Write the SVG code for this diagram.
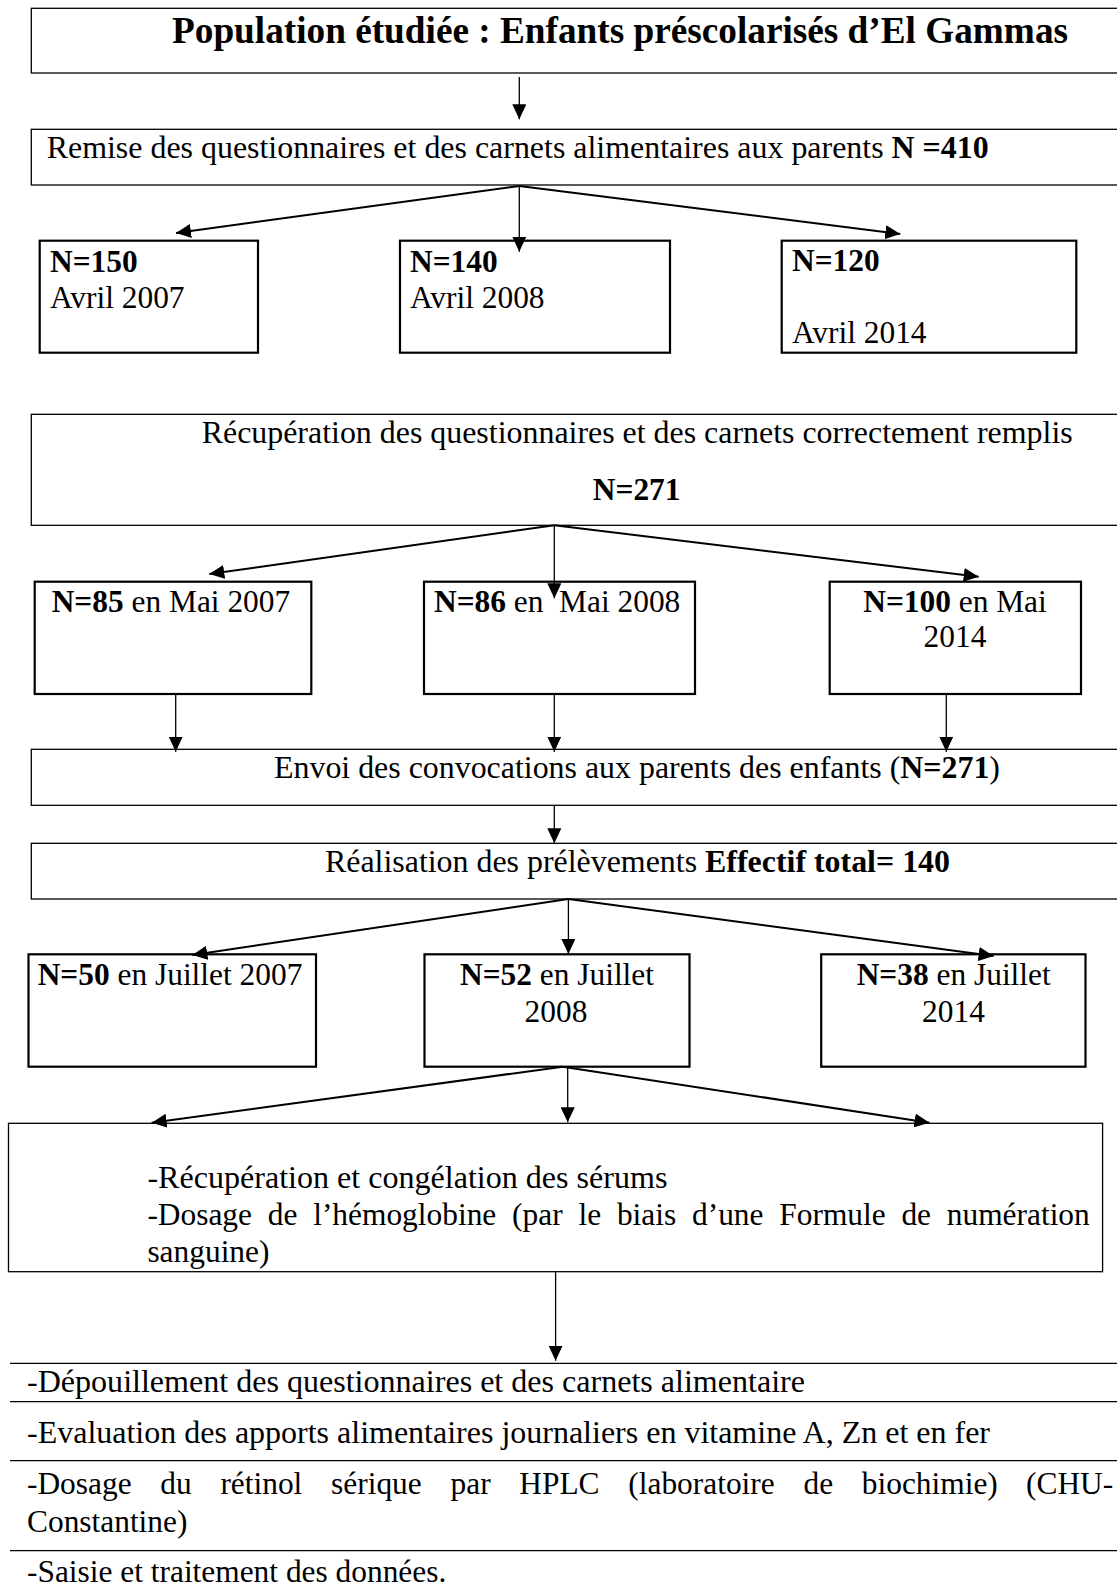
<svg xmlns="http://www.w3.org/2000/svg" width="1117" height="1591" viewBox="0 0 1117 1591">
<style>
text{font-family:"Liberation Serif","Times New Roman",serif;font-size:31.4px;fill:#000}
.b{font-weight:bold}
.t{font-size:37px;font-weight:bold}
.c{text-anchor:middle}
.wide{fill:#fff;stroke:#000;stroke-width:1.3}
.small{fill:none;stroke:#000;stroke-width:2.2}
.rule{stroke:#000;stroke-width:1.3}
.d{stroke:#000;stroke-width:2;fill:none}
.v{stroke:#000;stroke-width:1.3;fill:none}
.pre{white-space:pre}
</style>
<defs>
<marker id="ah" viewBox="0 0 15 14" markerWidth="15" markerHeight="14" refX="15" refY="7" orient="auto" markerUnits="userSpaceOnUse">
<path d="M0,0 L15,7 L0,14 z" fill="#000"/>
</marker>
</defs>
<rect width="1117" height="1591" fill="#fff"/>

<g id="n-population">
<rect class="wide" x="31.3" y="8.3" width="1100" height="64.7"/>
<text class="t" x="172" y="43.3" textLength="896" lengthAdjust="spacingAndGlyphs">Population étudiée : Enfants préscolarisés d’El Gammas</text>
</g>

<g id="n-remise">
<rect class="wide" x="31.3" y="129.3" width="1100" height="55.7"/>
<text x="46.7" y="157.5" textLength="942" lengthAdjust="spacingAndGlyphs">Remise des questionnaires et des carnets alimentaires aux parents <tspan class="b">N =410</tspan></text>
</g>

<g id="n-avril2007">
<rect class="small" x="39.7" y="240.7" width="218.3" height="112"/>
<text class="b" x="50" y="271.5">N=150</text>
<text x="50" y="308">Avril 2007</text>
</g>

<g id="n-avril2008">
<rect class="small" x="400" y="240.7" width="270" height="112"/>
<text class="b" x="410" y="271.5">N=140</text>
<text x="410" y="308">Avril 2008</text>
</g>

<g id="n-avril2014">
<rect class="small" x="781.7" y="240.7" width="294.6" height="112"/>
<text class="b" x="792" y="271">N=120</text>
<text x="792" y="343.3">Avril 2014</text>
</g>

<g id="n-recuperation">
<rect class="wide" x="31.3" y="414.3" width="1100" height="111"/>
<text x="201.7" y="443.3" textLength="871" lengthAdjust="spacingAndGlyphs">Récupération des questionnaires et des carnets correctement remplis</text>
<text class="b c" x="636.7" y="500">N=271</text>
</g>

<g id="n-mai2007">
<rect class="small" x="34.7" y="581.7" width="276.6" height="112.3"/>
<text x="51.7" y="611.7"><tspan class="b">N=85</tspan> en Mai 2007</text>
</g>

<g id="n-mai2008">
<rect class="small" x="424" y="581.7" width="271" height="112.3"/>
<text class="pre" x="434" y="611.7"><tspan class="b">N=86</tspan> en  Mai 2008</text>
</g>

<g id="n-mai2014">
<rect class="small" x="829.7" y="581.7" width="251.3" height="112.3"/>
<text class="c" x="955" y="611.7"><tspan class="b">N=100</tspan> en Mai</text>
<text class="c" x="955" y="646.7">2014</text>
</g>

<g id="n-envoi">
<rect class="wide" x="31.3" y="749.3" width="1100" height="56"/>
<text x="274" y="778.3" textLength="726" lengthAdjust="spacingAndGlyphs">Envoi des convocations aux parents des enfants (<tspan class="b">N=271</tspan>)</text>
</g>

<g id="n-realisation">
<rect class="wide" x="31.3" y="843.3" width="1100" height="55.7"/>
<text x="325" y="871.7" textLength="625" lengthAdjust="spacingAndGlyphs">Réalisation des prélèvements <tspan class="b">Effectif total= 140</tspan></text>
</g>

<g id="n-juillet2007">
<rect class="small" x="28.5" y="954.3" width="287.5" height="112.4"/>
<text x="37.7" y="985"><tspan class="b">N=50</tspan> en Juillet 2007</text>
</g>

<g id="n-juillet2008">
<rect class="small" x="424.5" y="954.3" width="265" height="112.4"/>
<text class="c" x="557" y="985"><tspan class="b">N=52</tspan> en Juillet</text>
<text class="c" x="556" y="1021.7">2008</text>
</g>

<g id="n-juillet2014">
<rect class="small" x="821.2" y="954.3" width="264.3" height="112.4"/>
<text class="c" x="953.7" y="985"><tspan class="b">N=38</tspan> en Juillet</text>
<text class="c" x="953.5" y="1021.7">2014</text>
</g>

<g id="n-serums">
<rect class="wide" x="8.5" y="1123.3" width="1094.1" height="148.4"/>
<text x="147.4" y="1188.3" textLength="520" lengthAdjust="spacingAndGlyphs">-Récupération et congélation des sérums</text>
<text y="1225"><tspan x="147.4">-Dosage</tspan><tspan x="267.8">de</tspan><tspan x="313.2">l’hémoglobine</tspan><tspan x="512.1">(par</tspan><tspan x="578.5">le</tspan><tspan x="616.9">biais</tspan><tspan x="692">d’une</tspan><tspan x="779.3">Formule</tspan><tspan x="901.4">de</tspan><tspan x="946.8">numération</tspan></text>
<text x="147.4" y="1261.7">sanguine)</text>
</g>

<g id="n-final">
<line class="rule" x1="10" y1="1363.3" x2="1117" y2="1363.3"/>
<line class="rule" x1="10" y1="1401.7" x2="1117" y2="1401.7"/>
<line class="rule" x1="10" y1="1460.7" x2="1117" y2="1460.7"/>
<line class="rule" x1="10" y1="1550.7" x2="1117" y2="1550.7"/>
<text x="27" y="1391.5" textLength="778" lengthAdjust="spacingAndGlyphs">-Dépouillement des questionnaires et des carnets alimentaire</text>
<text x="27" y="1443.3" textLength="963" lengthAdjust="spacingAndGlyphs">-Evaluation des apports alimentaires journaliers en vitamine A, Zn et en fer</text>
<text y="1494.3"><tspan x="27">-Dosage</tspan><tspan x="160.3">du</tspan><tspan x="220.4">rétinol</tspan><tspan x="331.1">sérique</tspan><tspan x="450.5">par</tspan><tspan x="519.3">HPLC</tspan><tspan x="628.3">(laboratoire</tspan><tspan x="803.5">de</tspan><tspan x="861.8">biochimie)</tspan><tspan x="1026">(CHU-</tspan></text>
<text x="27" y="1531.7">Constantine)</text>
<text x="27" y="1581.5">-Saisie et traitement des données.</text>
</g>

<g id="connectors">
<line class="v" x1="519.3" y1="77" x2="519.3" y2="119.3" marker-end="url(#ah)"/>
<line class="d" x1="519.3" y1="186" x2="176" y2="233" marker-end="url(#ah)"/>
<line class="v" x1="519.3" y1="186" x2="519.3" y2="251.7" marker-end="url(#ah)"/>
<line class="d" x1="519.3" y1="186" x2="900.3" y2="234" marker-end="url(#ah)"/>
<line class="d" x1="554.3" y1="525.3" x2="209.3" y2="574" marker-end="url(#ah)"/>
<line class="v" x1="554.3" y1="525.3" x2="554.3" y2="598.3" marker-end="url(#ah)"/>
<line class="d" x1="554.3" y1="525.3" x2="978.7" y2="576.7" marker-end="url(#ah)"/>
<line class="v" x1="175.7" y1="694" x2="175.7" y2="751.7" marker-end="url(#ah)"/>
<line class="v" x1="554.3" y1="694" x2="554.3" y2="751.7" marker-end="url(#ah)"/>
<line class="v" x1="946.3" y1="694" x2="946.3" y2="751.7" marker-end="url(#ah)"/>
<line class="v" x1="554.3" y1="805.3" x2="554.3" y2="843.3" marker-end="url(#ah)"/>
<line class="d" x1="568.4" y1="899" x2="192.3" y2="955" marker-end="url(#ah)"/>
<line class="v" x1="568.4" y1="899" x2="568.4" y2="954" marker-end="url(#ah)"/>
<line class="d" x1="568.4" y1="899" x2="993.6" y2="956" marker-end="url(#ah)"/>
<line class="d" x1="562.7" y1="1066.7" x2="151.7" y2="1122.7" marker-end="url(#ah)"/>
<line class="v" x1="567.7" y1="1066.7" x2="567.7" y2="1122.3" marker-end="url(#ah)"/>
<line class="d" x1="562.7" y1="1066.7" x2="929.5" y2="1122.7" marker-end="url(#ah)"/>
<line class="v" x1="555.6" y1="1271.7" x2="555.6" y2="1360.7" marker-end="url(#ah)"/>
</g>
</svg>
